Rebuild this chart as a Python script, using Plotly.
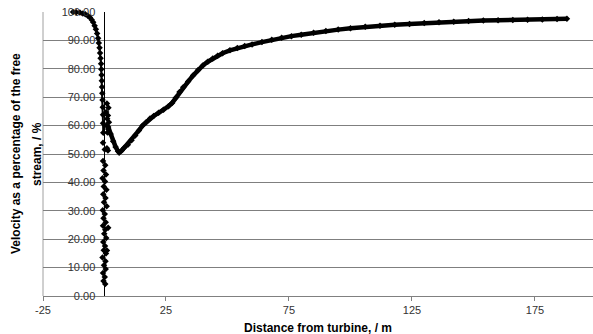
import plotly.graph_objects as go

# Upstream approach curve (distance m, velocity %)
up_x = [-12.8, -11.5, -10.0, -8.8, -7.8, -6.8, -5.9, -5.2, -4.6, -4.0, -3.5, -3.0, -2.6, -2.3,
        -2.0, -1.8, -1.6, -1.4, -1.3, -1.2, -1.1, -1.0, -0.9, -0.8, -0.7, -0.6, -0.6, -0.5]
up_y = [100.0, 99.9, 99.8, 99.5, 99.2, 98.7, 98.1, 97.3, 96.4, 95.2, 93.9, 92.4, 90.8, 89.1,
        87.4, 85.6, 83.7, 81.8, 79.8, 77.8, 75.8, 73.6, 71.4, 69.0, 66.5, 63.8, 60.8, 57.5]

# Points scattered at the turbine plane
rotor_x = [-0.6, 0.3, -0.4, 0.6, -0.8, 0.2, -0.3, 0.8, -0.5, 0.4, -0.2, 0.9, -0.7, 0.1, -0.4, 0.5,
           -0.6, 0.3, -0.1, 0.7, -0.5, 0.2, -0.3, 0.6, -0.8, 0.4, -0.2, 0.5, -0.6, 0.1, -0.4, 0.3,
           -0.6, 1.0, 0.1, 1.4, 1.5, 1.0]
rotor_y = [47.5, 46.0, 44.2, 42.8, 41.5, 40.3, 38.6, 37.4, 35.8, 34.5, 33.0, 31.6, 30.2, 28.9, 27.4, 26.0,
           24.7, 23.3, 21.9, 20.4, 19.0, 17.6, 16.1, 15.0, 13.6, 12.2, 10.8, 9.5, 8.1, 6.7, 5.3, 4.2,
           54.0, 52.0, 51.6, 51.2, 24.0, 16.0]

near_x = [1.0, 1.6, 0.7, 1.4, 1.1, 1.8, 0.9, 1.5, 1.2]
near_y = [67.8, 66.3, 64.8, 63.6, 62.4, 61.2, 60.0, 58.8, 57.6]

# Downstream wake recovery
wake_x = [1.5, 2.5, 3.5, 4.5, 5.5, 6.0, 7.0, 8.0, 9.5, 11.0, 12.5, 14.0, 15.5, 17.0, 18.5, 20.0,
          22.0, 24.0, 26.0, 27.5, 29.0, 30.5, 32.0, 34.0, 36.0, 38.0, 40.0, 42.0, 44.0, 46.0, 48.0,
          51.0, 54.0, 57.0, 60.0, 64.0, 68.0, 72.0, 76.0, 80.0, 85.0, 90.0, 95.0, 100.0, 106.0,
          112.0, 118.0, 124.0, 130.0, 136.0, 142.0, 148.0, 154.0, 160.0, 166.0, 172.0, 178.0, 184.0, 188.0]
wake_y = [59.5, 57.0, 54.5, 52.5, 51.0, 50.5, 51.2, 52.2, 53.3, 54.8, 56.5, 58.3, 60.0, 61.3, 62.5, 63.4,
          64.5, 65.6, 66.8, 68.0, 69.8, 71.8, 73.5, 75.5, 77.6, 79.5, 81.2, 82.5, 83.6, 84.6, 85.5,
          86.5, 87.3, 88.0, 88.6, 89.4, 90.2, 90.9, 91.5, 92.0, 92.7, 93.3, 93.8, 94.3, 94.8,
          95.2, 95.5, 95.8, 96.1, 96.4, 96.6, 96.8, 97.0, 97.1, 97.2, 97.3, 97.4, 97.5, 97.6]

x_ticks = [-25, 25, 75, 125, 175]
y_ticks = [0, 10, 20, 30, 40, 50, 60, 70, 80, 90, 100]

X_MIN, X_MAX = -25, 198.6
FONT = "Liberation Sans, Arial, sans-serif"

fig = go.Figure()
fig.add_trace(go.Scatter(x=up_x, y=up_y, mode="lines+markers",
                         line=dict(color="black", width=2),
                         marker=dict(symbol="diamond", size=5, color="black"),
                         cliponaxis=False, showlegend=False))
fig.add_trace(go.Scatter(x=rotor_x, y=rotor_y, mode="markers",
                         marker=dict(symbol="diamond", size=5, color="black"),
                         cliponaxis=False, showlegend=False))
fig.add_trace(go.Scatter(x=near_x, y=near_y, mode="markers",
                         marker=dict(symbol="diamond", size=5, color="black"),
                         cliponaxis=False, showlegend=False))
fig.add_trace(go.Scatter(x=wake_x, y=wake_y, mode="lines+markers",
                         line=dict(color="black", width=4.5),
                         marker=dict(symbol="diamond", size=5, color="black"),
                         cliponaxis=False, showlegend=False))

ypos = (0 - X_MIN) / (X_MAX - X_MIN)

fig.update_layout(
    width=593, height=334,
    margin=dict(l=43, r=0, t=12, b=38),
    paper_bgcolor="white", plot_bgcolor="white",
    font=dict(family=FONT, size=11, color="#222"),
    xaxis=dict(range=[X_MIN, X_MAX], tickmode="array", tickvals=x_ticks,
               ticktext=[str(v) for v in x_ticks],
               showgrid=False, zeroline=False, showline=True, linecolor="#808080",
               linewidth=1, ticks="outside", ticklen=4, tickcolor="#808080",
               tickfont=dict(size=11, color="#333")),
    yaxis=dict(range=[0, 100], tickmode="array", tickvals=y_ticks,
               ticktext=[f"{v:.2f}" for v in y_ticks],
               anchor="free", position=ypos,
               showgrid=True, gridcolor="#7f7f7f", gridwidth=1,
               zeroline=False, showline=True, linecolor="black", linewidth=1,
               ticks="", ticklabelstandoff=7,
               tickfont=dict(size=11, color="#333")),
    shapes=[dict(type="line", xref="paper", yref="paper", x0=0, x1=0, y0=0, y1=1,
                 line=dict(color="#a0a0a0", width=1), layer="below")],
    annotations=[
        dict(text="<b>Velocity as a percentage of the free</b>", xref="paper", yref="paper",
             x=0, y=0.5, xanchor="center", yanchor="middle", xshift=-27, textangle=-90,
             showarrow=False, font=dict(size=12, color="black", family=FONT)),
        dict(text="<b>stream, / %</b>", xref="paper", yref="paper",
             x=0, y=0.5, xanchor="center", yanchor="middle", xshift=-6, textangle=-90,
             showarrow=False, font=dict(size=12, color="black", family=FONT)),
        dict(text="<b>Distance from turbine, / m</b>", xref="paper", yref="paper",
             x=0.5, y=0, xanchor="center", yanchor="middle", yshift=-32, showarrow=False,
             font=dict(size=12, color="black", family=FONT)),
    ],
)

fig.write_html("out.html")
